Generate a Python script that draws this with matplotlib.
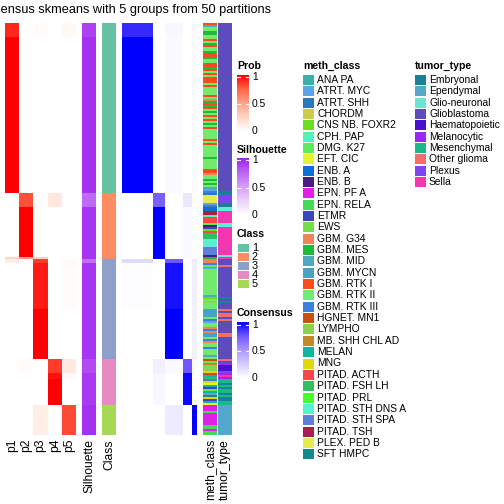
import numpy as np
import matplotlib
matplotlib.use("Agg")
import matplotlib.pyplot as plt
from matplotlib.colors import LinearSegmentedColormap, ListedColormap, to_rgb
from matplotlib.patches import Rectangle

plt.rcParams['font.family'] = ['Liberation Sans', 'DejaVu Sans']

W, H = 504, 504
title = "Consensus skmeans with 5 groups from 50 partitions"

# ---------------- data ----------------
class_labels = ["1", "2", "3", "4", "5"]
class_colors = ["#66C2A5", "#FC8D62", "#8DA0CB", "#E78AC3", "#A6D854"]
class_sizes = [85, 33, 50, 23, 15]

prob_cols = ["p1", "p2", "p3", "p4", "p5"]
# per class: list of (n_rows, [p1..p5])
prob_segments = [
    [(7, [0.90, 0, 0.02, 0, 0.04]), (78, [1.0, 0, 0, 0, 0])],
    [(7, [0, 0.80, 0, 0.14, 0.01]), (25, [0, 1.0, 0, 0, 0]), (1, [0.25, 0.5, 0.25, 0, 0])],
    [(2, [0.10, 0, 0.85, 0, 0.03]), (23, [0, 0, 0.93, 0, 0.02]), (25, [0, 0, 1.0, 0, 0])],
    [(7, [0, 0.02, 0, 0.85, 0.12]), (3, [0, 0, 0, 0.96, 0.03]), (13, [0, 0, 0, 1.0, 0])],
    [(15, [0, 0, 0.10, 0, 0.82])],
]

silhouette_segments = [
    [(7, 0.88), (78, 0.94)],
    [(7, 0.72), (26, 0.92)],
    [(2, 0.70), (48, 0.92)],
    [(7, 0.84), (16, 0.90)],
    [(15, 0.94)],
]

# per class: list of (n_rows, mean consensus with samples of class 1..5)
consensus_segments = [
    [(7, [0.88, 0, 0.04, 0, 0.02]), (78, [1.0, 0, 0.02, 0, 0.01])],
    [(7, [0, 0.72, 0, 0.12, 0]), (26, [0, 1.0, 0, 0.02, 0])],
    [(2, [0.18, 0, 0.75, 0, 0.10]), (23, [0.01, 0, 0.95, 0, 0.08]), (25, [0, 0, 1.0, 0, 0.07])],
    [(7, [0, 0.08, 0.02, 0.75, 0.02]), (16, [0, 0.04, 0, 0.97, 0])],
    [(15, [0, 0, 0.10, 0, 1.0])],
]

meth_levels = ["ANA PA", "ATRT. MYC", "ATRT. SHH", "CHORDM", "CNS NB. FOXR2", "CPH. PAP",
               "DMG. K27", "EFT. CIC", "ENB. A", "ENB. B", "EPN. PF A", "EPN. RELA", "ETMR",
               "EWS", "GBM. G34", "GBM. MES", "GBM. MID", "GBM. MYCN", "GBM. RTK I",
               "GBM. RTK II", "GBM. RTK III", "HGNET. MN1", "LYMPHO", "MB. SHH CHL AD",
               "MELAN", "MNG", "PITAD. ACTH", "PITAD. FSH LH", "PITAD. PRL",
               "PITAD. STH DNS A", "PITAD. STH SPA", "PITAD. TSH", "PLEX. PED B", "SFT HMPC"]
meth_colors = ["#3BB0A8", "#5AA5EA", "#2A79BA", "#CCCC4A", "#6AE01C", "#52F0BE",
               "#5EEA5E", "#E0F52A", "#0E6ED8", "#4A1A85", "#E020E6", "#44DA58", "#3E44C0",
               "#72E048", "#F08458", "#1EBA3A", "#50A8C0", "#45A5C0", "#FF4A1C",
               "#72EA6C", "#3A80E0", "#C85010", "#88D450", "#C08A2A",
               "#12B2A6", "#E0D80A", "#FA4646", "#30C060", "#44FF28",
               "#5AEED2", "#5C80D8", "#A8204A", "#E8E850", "#128A8C"]

tumor_levels = ["Embryonal", "Ependymal", "Glio-neuronal", "Glioblastoma", "Haematopoietic",
                "Melanocytic", "Mesenchymal", "Other glioma", "Plexus", "Sella"]
tumor_colors = ["#1A8098", "#55A8CC", "#68E8D2", "#5D4CBB", "#4A10D0",
                "#9A28F0", "#18B888", "#F46C6C", "#7E44F2", "#F536B2"]

meth_runs = [
    # class 1
    ("GBM. RTK I", 1), ("GBM. MID", 1), ("GBM. RTK II", 2), ("GBM. MES", 2), ("GBM. RTK II", 2),
    ("GBM. RTK I", 1), ("GBM. RTK II", 1), ("GBM. MES", 1), ("GBM. RTK I", 1), ("GBM. RTK II", 2),
    ("GBM. MES", 1), ("GBM. RTK I", 2), ("GBM. MES", 1), ("GBM. RTK II", 2), ("GBM. RTK I", 2),
    ("GBM. MES", 1), ("GBM. RTK I", 1), ("GBM. RTK II", 1), ("GBM. RTK I", 1), ("GBM. RTK II", 1),
    ("GBM. RTK I", 3), ("GBM. RTK II", 1), ("GBM. RTK I", 1), ("GBM. RTK II", 4), ("GBM. RTK I", 1),
    ("GBM. RTK II", 1), ("GBM. G34", 1), ("GBM. MES", 1), ("GBM. RTK I", 1), ("GBM. MES", 1),
    ("GBM. RTK I", 1), ("GBM. RTK II", 1), ("GBM. MES", 1), ("GBM. RTK II", 1), ("GBM. RTK I", 1),
    ("GBM. RTK II", 1), ("GBM. RTK I", 1), ("GBM. RTK II", 1), ("GBM. MES", 1), ("GBM. RTK II", 1),
    ("GBM. RTK I", 1), ("GBM. RTK II", 5), ("GBM. RTK I", 1), ("GBM. RTK II", 1), ("GBM. RTK I", 1),
    ("GBM. RTK II", 6), ("GBM. MES", 1), ("GBM. RTK II", 5), ("GBM. RTK I", 2), ("GBM. G34", 1),
    ("GBM. RTK II", 2), ("GBM. MES", 1), ("GBM. RTK II", 1), ("GBM. MES", 1), ("GBM. RTK II", 1),
    ("GBM. MID", 1), ("ATRT. MYC", 1), ("GBM. RTK III", 1),
    # class 2
    ("ATRT. SHH", 1), ("PLEX. PED B", 4), ("ATRT. MYC", 1), ("GBM. RTK III", 1), ("ENB. A", 2),
    ("PITAD. TSH", 2), ("CPH. PAP", 1), ("PITAD. ACTH", 3), ("DMG. K27", 1), ("ENB. B", 1),
    ("ETMR", 1), ("CNS NB. FOXR2", 1), ("PITAD. ACTH", 1), ("PITAD. FSH LH", 3),
    ("PITAD. STH DNS A", 4), ("PITAD. STH SPA", 4), ("ENB. B", 1), ("GBM. MES", 1),
    # class 3
    ("GBM. G34", 2), ("GBM. RTK III", 1), ("DMG. K27", 1), ("ATRT. MYC", 1), ("GBM. RTK II", 13),
    ("GBM. MID", 1), ("CNS NB. FOXR2", 1), ("GBM. RTK II", 1), ("LYMPHO", 1), ("GBM. RTK II", 3),
    ("GBM. MYCN", 4), ("GBM. RTK II", 1), ("GBM. RTK III", 1), ("ATRT. MYC", 1), ("GBM. RTK II", 2),
    ("GBM. G34", 1), ("GBM. RTK III", 1), ("GBM. G34", 1), ("GBM. MYCN", 2), ("GBM. RTK II", 1),
    ("GBM. RTK III", 1), ("GBM. G34", 1), ("GBM. RTK II", 2), ("GBM. RTK III", 1), ("GBM. RTK II", 3),
    ("GBM. MID", 1), ("GBM. RTK II", 1),
    # class 4
    ("HGNET. MN1", 1), ("EWS", 1), ("MB. SHH CHL AD", 1), ("LYMPHO", 3), ("MNG", 1),
    ("HGNET. MN1", 1), ("MELAN", 1), ("PITAD. FSH LH", 1), ("GBM. RTK III", 1), ("MNG", 1),
    ("EFT. CIC", 1), ("MELAN", 1), ("ETMR", 1), ("EWS", 1), ("MELAN", 1), ("ATRT. MYC", 1),
    ("SFT HMPC", 1), ("MNG", 1), ("ETMR", 1), ("MELAN", 1), ("EFT. CIC", 1),
    # class 5
    ("EPN. PF A", 3), ("EPN. RELA", 1), ("EPN. PF A", 6), ("EPN. RELA", 2), ("EPN. PF A", 1),
    ("EPN. RELA", 2),
]

tumor_runs = [
    # class 1
    ("Glioblastoma", 84), ("Embryonal", 1),
    # class 2
    ("Embryonal", 1), ("Plexus", 4), ("Embryonal", 2), ("Glio-neuronal", 2), ("Sella", 6),
    ("Glio-neuronal", 2), ("Sella", 14), ("Glio-neuronal", 1), ("Sella", 1),
    # class 3
    ("Glioblastoma", 3), ("Other glioma", 1), ("Glioblastoma", 15), ("Embryonal", 1),
    ("Glioblastoma", 1), ("Embryonal", 1), ("Glioblastoma", 3), ("Other glioma", 1),
    ("Glioblastoma", 1), ("Other glioma", 2), ("Glioblastoma", 1), ("Other glioma", 1),
    ("Glioblastoma", 6), ("Other glioma", 2), ("Glioblastoma", 11),
    # class 4
    ("Other glioma", 1), ("Glioblastoma", 1), ("Melanocytic", 1), ("Haematopoietic", 3),
    ("Plexus", 1), ("Melanocytic", 1), ("Sella", 1), ("Melanocytic", 1), ("Mesenchymal", 2),
    ("Embryonal", 1), ("Mesenchymal", 1), ("Embryonal", 1), ("Mesenchymal", 2), ("Embryonal", 1),
    ("Mesenchymal", 1), ("Embryonal", 2), ("Mesenchymal", 2),
    # class 5
    ("Ependymal", 15),
]

# ---------------- build matrices ----------------
def expand_segments(segs_per_class):
    rows = []
    for segs in segs_per_class:
        for n, v in segs:
            rows.extend([v] * n)
    return np.array(rows, dtype=float)

prob = expand_segments(prob_segments)
sil = expand_segments(silhouette_segments)
cons_rows = expand_segments(consensus_segments)
col_class = np.repeat(np.arange(5), class_sizes)
consensus = cons_rows[:, col_class]
row_class = np.repeat(np.arange(5), class_sizes)

def runs_to_rgb(runs, levels, colors):
    lut = {l: to_rgb(c) for l, c in zip(levels, colors)}
    out = []
    for lab, n in runs:
        out.extend([lut[lab]] * n)
    return np.array(out)[:, None, :]

meth_rgb = runs_to_rgb(meth_runs, meth_levels, meth_colors)
tumor_rgb = runs_to_rgb(tumor_runs, tumor_levels, tumor_colors)

prob_cmap = LinearSegmentedColormap.from_list(
    "prob", [(0, "#FFFFFF"), (0.25, "#FFD3C4"), (0.5, "#FFA28B"), (0.75, "#FF6649"), (1, "#FF0000")])
sil_cmap = LinearSegmentedColormap.from_list(
    "sil", [(0, "#FFFFFF"), (0.25, "#EDD0FB"), (0.5, "#D69EF8"), (0.75, "#BC64F4"), (1, "#A020F0")])
cons_cmap = LinearSegmentedColormap.from_list(
    "cons", [(0, "#FFFFFF"), (0.25, "#D6CCFF"), (0.5, "#AC98FF"), (0.75, "#7458FF"), (1, "#0000FF")])
class_cmap = ListedColormap(class_colors)

# ---------------- figure ----------------
fig = plt.figure(figsize=(W / 100, H / 100), dpi=100)

TOP, BOT = 23, 435

def px_axes(x0, x1, y0=TOP, y1=BOT):
    ax = fig.add_axes([x0 / W, 1 - y1 / H, (x1 - x0) / W, (y1 - y0) / H])
    ax.set_axis_off()
    return ax

label_fs = 8.7

ax = px_axes(5, 76)
ax.imshow(prob, cmap=prob_cmap, vmin=0, vmax=1, aspect="auto", interpolation="nearest")
for i, lab in enumerate(prob_cols):
    fig.text((5 + (i + 0.5) * 71 / 5) / W, 1 - 439 / H, lab, rotation=90,
             ha="center", va="top", fontsize=label_fs)

ax = px_axes(82, 96)
ax.imshow(sil[:, None], cmap=sil_cmap, vmin=0, vmax=1, aspect="auto", interpolation="nearest")
fig.text(89 / W, 1 - 439 / H, "Silhouette", rotation=90, ha="center", va="top", fontsize=label_fs)

ax = px_axes(102, 116)
ax.imshow(row_class[:, None], cmap=class_cmap, vmin=-0.5, vmax=4.5, aspect="auto",
          interpolation="nearest")
fig.text(109 / W, 1 - 439 / H, "Class", rotation=90, ha="center", va="top", fontsize=label_fs)

ax = px_axes(122, 197)
ax.imshow(consensus, cmap=cons_cmap, vmin=0, vmax=1, aspect="auto", interpolation="nearest")

ax = px_axes(203, 217)
ax.imshow(meth_rgb, aspect="auto", interpolation="nearest")
fig.text(210 / W, 1 - 439 / H, "meth_class", rotation=90, ha="center", va="top", fontsize=label_fs)

ax = px_axes(218, 232)
ax.imshow(tumor_rgb, aspect="auto", interpolation="nearest")
fig.text(225 / W, 1 - 439 / H, "tumor_type", rotation=90, ha="center", va="top", fontsize=label_fs)

fig.text(121 / W, 1 - 10 / H, title, ha="center", va="center", fontsize=9.2)

# ---------------- legends ----------------
lg = fig.add_axes([0, 0, 1, 1])
lg.set_axis_off()
leg_fs = 7.4
title_fs = 7.6
grad = np.linspace(1, 0, 200)[:, None]

def colorbar_legend(name, cmap, y_title, y_top, y_bot, y1, y05, y0):
    lg.text(237, y_title, name, fontsize=title_fs, fontweight="bold", ha="left", va="center")
    lg.imshow(grad, cmap=cmap, vmin=0, vmax=1, extent=(237, 249, y_bot, y_top), aspect="auto")
    for yv, lab in [(y1, "1"), (y05, "0.5"), (y0, "0")]:
        lg.text(252, yv, lab, fontsize=leg_fs, ha="left", va="center")
    for yv in (y1, y05):
        lg.plot([237, 240], [yv, yv], color="white", lw=0.8)
        lg.plot([246, 249], [yv, yv], color="white", lw=0.8)

colorbar_legend("Prob", prob_cmap, 66, 75, 131, 77, 104, 131)
colorbar_legend("Silhouette", sil_cmap, 150, 158, 215, 160, 188, 215)
colorbar_legend("Consensus", cons_cmap, 313, 322, 378, 325, 351, 378)

lg.text(237, 234, "Class", fontsize=title_fs, fontweight="bold", ha="left", va="center")
for i, (lab, col) in enumerate(zip(class_labels, class_colors)):
    yc = 248 + i * 9
    lg.add_patch(Rectangle((238, yc - 4.3), 11, 8.6, facecolor=col, edgecolor="none"))
    lg.text(252, yc, lab, fontsize=leg_fs + 0.5, ha="left", va="center")

def discrete_legend(name, levels, colors, x):
    lg.text(x, 66, name, fontsize=title_fs, fontweight="bold", ha="left", va="center")
    for i, (lab, col) in enumerate(zip(levels, colors)):
        yc = 80 + i * 11.34
        lg.add_patch(Rectangle((x, yc - 5), 11, 10, facecolor=col, edgecolor="none"))
        lg.text(x + 14, yc, lab, fontsize=leg_fs, ha="left", va="center")

discrete_legend("meth_class", meth_levels, meth_colors, 303)
discrete_legend("tumor_type", tumor_levels, tumor_colors, 415)

lg.set_xlim(0, W)
lg.set_ylim(H, 0)

fig.savefig("out.png", dpi=100)
